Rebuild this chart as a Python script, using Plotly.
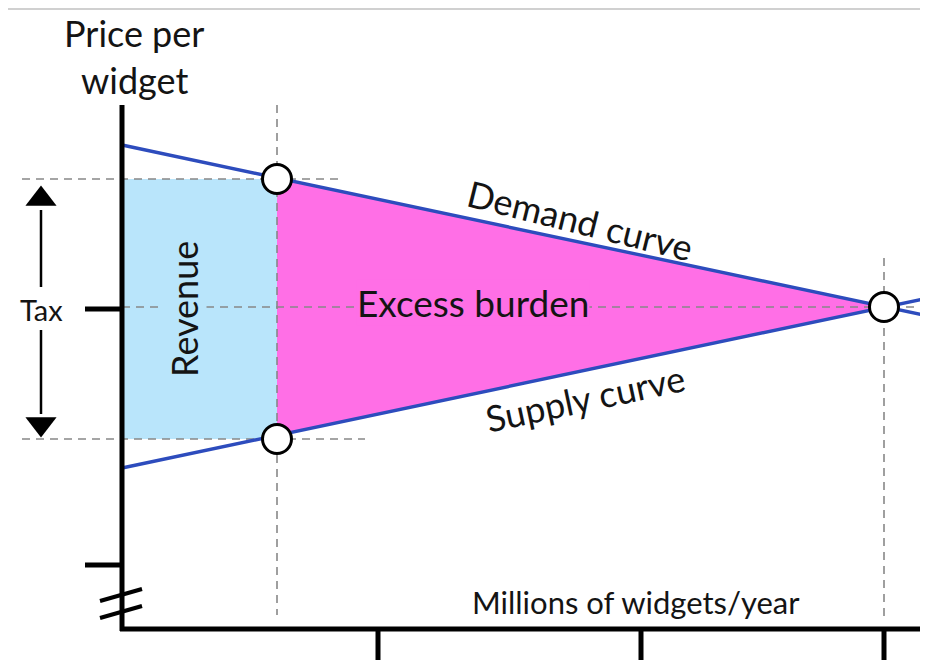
import plotly.graph_objects as go

# Diagram coordinates (screen-like units: x to the right, y downward)
axis_origin = (122, 629)
y_axis_top = 105
x_axis_end = 928
x_tick_positions = [378, 641, 884]
y_tick_positions = [309, 565]

# Curves
demand_x = [122, 928]
demand_y = [145, 316]
supply_x = [122, 928]
supply_y = [468, 298]

# Tax wedge
q_taxed = 277
q_equilibrium = 884
p_buyers = 179
p_sellers = 439
p_equilibrium = 307

# Shaded regions
revenue_x = [122, 277, 277, 122, 122]
revenue_y = [179, 179, 439, 439, 179]
burden_x = [277, 884, 277, 277]
burden_y = [178, 307, 435, 178]

# Points of interest
point_x = [277, 277, 884]
point_y = [179, 439, 307]

FONT = "Lato, 'Open Sans', sans-serif"
INK = "#141414"
BLUE = "#2d4cbd"
DASH_GRAY = "#888888"
PAGE_OFFSET = 8  # default body margin of the html page

fig = go.Figure()

# Revenue rectangle and excess burden triangle
fig.add_trace(go.Scatter(x=revenue_x, y=revenue_y, fill="toself", fillcolor="#b9e5fb",
                         line=dict(width=0), mode="lines", hoverinfo="skip"))
fig.add_trace(go.Scatter(x=burden_x, y=burden_y, fill="toself", fillcolor="#ff6fe6",
                         line=dict(width=0), mode="lines", hoverinfo="skip"))

# Dashed guide lines
dash = dict(color=DASH_GRAY, width=1.6, dash="8px,6px")
guides = [
    ([22, 340], [p_buyers, p_buyers]),
    ([22, 365], [p_sellers, p_sellers]),
    ([122, 928], [p_equilibrium, p_equilibrium]),
    ([q_taxed, q_taxed], [105, 615]),
    ([q_equilibrium, q_equilibrium], [258, 620]),
]
for gx, gy in guides:
    fig.add_trace(go.Scatter(x=gx, y=gy, mode="lines", line=dash, hoverinfo="skip"))

# Demand and supply curves
fig.add_trace(go.Scatter(x=demand_x, y=demand_y, mode="lines",
                         line=dict(color=BLUE, width=3.4), hoverinfo="skip"))
fig.add_trace(go.Scatter(x=supply_x, y=supply_y, mode="lines",
                         line=dict(color=BLUE, width=3.4), hoverinfo="skip"))

# Axes
black = dict(color="black", width=5)
fig.add_trace(go.Scatter(x=[122, 122], y=[y_axis_top, axis_origin[1] + 2], mode="lines",
                         line=black, hoverinfo="skip"))
fig.add_trace(go.Scatter(x=[120, x_axis_end], y=[axis_origin[1], axis_origin[1]], mode="lines",
                         line=black, hoverinfo="skip"))
for tx in x_tick_positions:
    fig.add_trace(go.Scatter(x=[tx, tx], y=[axis_origin[1], 662], mode="lines",
                             line=black, hoverinfo="skip"))
for ty in y_tick_positions:
    fig.add_trace(go.Scatter(x=[85, 122], y=[ty, ty], mode="lines",
                             line=black, hoverinfo="skip"))

# Axis break marks
for by in [(601, 589), (618, 606)]:
    fig.add_trace(go.Scatter(x=[100, 142], y=list(by), mode="lines",
                             line=dict(color="black", width=4), hoverinfo="skip"))

# Tax double arrow
arrow_x = 41
fig.add_trace(go.Scatter(x=[arrow_x, arrow_x], y=[210, 287], mode="lines",
                         line=dict(color="black", width=2.5), hoverinfo="skip"))
fig.add_trace(go.Scatter(x=[arrow_x, arrow_x], y=[330, 414], mode="lines",
                         line=dict(color="black", width=2.5), hoverinfo="skip"))
fig.add_trace(go.Scatter(x=[arrow_x], y=[199], mode="markers",
                         marker=dict(symbol="triangle-up", size=27, color="black"),
                         hoverinfo="skip"))
fig.add_trace(go.Scatter(x=[arrow_x], y=[424], mode="markers",
                         marker=dict(symbol="triangle-down", size=27, color="black"),
                         hoverinfo="skip"))

# Circles
fig.add_trace(go.Scatter(x=point_x, y=point_y, mode="markers",
                         marker=dict(size=29, color="white", line=dict(color="black", width=3)),
                         hoverinfo="skip"))

# Top rule
fig.add_trace(go.Scatter(x=[5, 936], y=[9, 9], mode="lines",
                         line=dict(color="#d0d0d0", width=2), hoverinfo="skip"))

# Labels
def label(text, x, y, size, angle=0, bg=None):
    fig.add_annotation(x=x, y=y, text=text, showarrow=False, textangle=angle,
                       font=dict(family=FONT, size=size, color=INK),
                       bgcolor=bg, borderpad=0, xanchor="center", yanchor="middle")

label("Price per", 134, 33, 36)
label("widget", 134, 80, 36)
label("Tax", 41, 309, 29)
label("Revenue", 184, 309, 36, angle=-90, bg="#b9e5fb")
label("Excess burden", 473, 302, 37, bg="#ff6fe6")
label("Demand curve", 580, 220, 36, angle=14)
label("Supply curve", 585, 398, 36, angle=-12)
label("Millions of widgets/year", 636, 602, 31)

fig.update_layout(
    width=928, height=660,
    margin=dict(l=0, r=0, t=0, b=0),
    paper_bgcolor="white", plot_bgcolor="white",
    showlegend=False,
    xaxis=dict(range=[PAGE_OFFSET, 928 + PAGE_OFFSET], visible=False, fixedrange=True),
    yaxis=dict(range=[660 + PAGE_OFFSET, PAGE_OFFSET], visible=False, fixedrange=True),
)

fig.write_html("out.html", config={"displayModeBar": False})
